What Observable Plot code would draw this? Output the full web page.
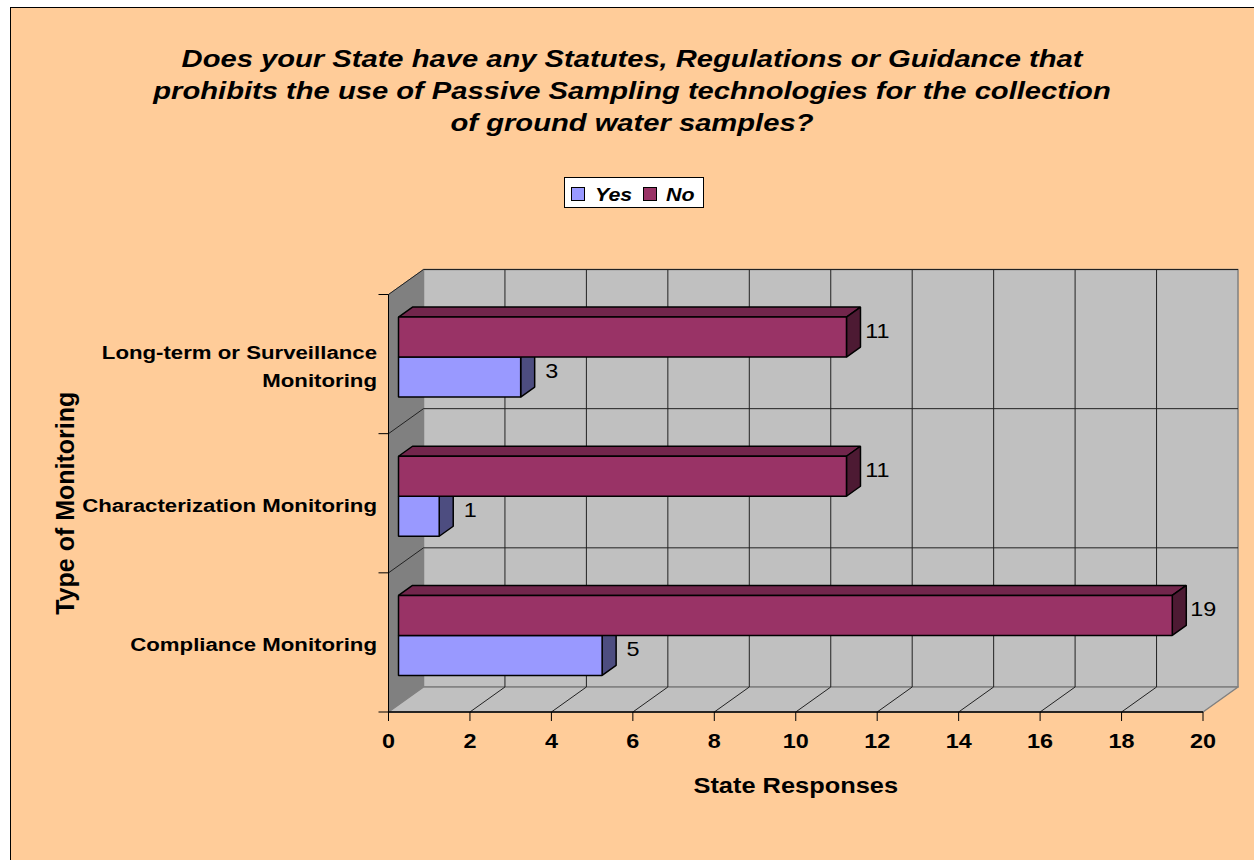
<!DOCTYPE html>
<html>
<head>
<meta charset="utf-8">
<script src="https://cdn.jsdelivr.net/npm/d3@7"></script>
<script src="https://cdn.jsdelivr.net/npm/@observablehq/plot@0.6"></script>
<style>
  html, body { margin: 0; padding: 0; background: #ffffff; }
  body { width: 1254px; height: 860px; overflow: hidden; position: relative; font-family: "Liberation Sans", Arial, sans-serif; }
  #frame { position: absolute; left: 10px; top: 7px; width: 1300px; height: 900px; background: #FFCC99; border-left: 1px solid #000; border-top: 1px solid #000; }
  #title { position: absolute; left: 0; top: 42.6px; width: 1264px; text-align: center; font-weight: bold; font-style: italic; font-size: 24.3px; line-height: 32px; color: #000; transform: scaleX(1.2); transform-origin: 632px 0; white-space: nowrap; }
  #legend { position: absolute; left: 564px; top: 177px; width: 140px; height: 31px; background: #fff; border: 1px solid #000; box-sizing: border-box; }
  .sw { position: absolute; width: 14px; height: 14px; border: 1px solid #000; box-sizing: border-box; top: 9px; }
  .lt { position: absolute; top: 7.5px; font-weight: bold; font-style: italic; font-size: 18.6px; line-height: 1; transform: scaleX(1.15); transform-origin: 0 0; white-space: nowrap; }
  #chart { position: absolute; left: 0; top: 0; }
</style>
</head>
<body>
<div id="frame"></div>
<div id="title"></div>
<div id="legend"></div>
<div id="chart"></div>
<script>
// ---------------- data ----------------
const titleLines = [
  "Does your State have any Statutes, Regulations or Guidance that",
  "prohibits the use of Passive Sampling technologies for the collection",
  "of ground water samples?"
];
const categories = ["Compliance Monitoring", "Characterization Monitoring", "Long-term or Surveillance\nMonitoring"];
const seriesNames = ["Yes", "No"];
const yesCounts = [5, 1, 3];
const noCounts = [19, 11, 11];
const xTicks = [0, 2, 4, 6, 8, 10, 12, 14, 16, 18, 20];
const xTitle = "State Responses";
const yTitle = "Type of Monitoring";
const seriesColors = {
  Yes: { front: "#9999FF", top: "#7A7ACC", side: "#4D4D80" },
  No:  { front: "#993366", top: "#72264C", side: "#4D1A33" }
};

// ---------------- geometry (styling of the 3D look) ----------------
const W = 1254, H = 860, mL = 388, mR = 51.5, mT = 294, mB = 148.5;
const kx = (W - mL - mR) / 20;   // px per x unit
const ky = (H - mT - mB) / 3;    // px per category band
const WD = [35, -25];            // wall depth offset (px)
const BF = [10, -7];             // bar front offset (px)
const BD = [14, -10];            // bar depth (px)
const barH = 40 / ky;            // bar thickness in band units
const add = (a, b) => [a[0] + b[0], a[1] + b[1]];
const pt = (x, y, o = [0, 0]) => ({ x: x + o[0] / kx, y: y - o[1] / ky });

// title & legend (HTML)
document.getElementById("title").innerHTML = titleLines.map(l => `<div>${l}</div>`).join("");
const legendPos = { Yes: [6, 30], No: [78, 101] };
document.getElementById("legend").innerHTML = seriesNames.map(s =>
  `<div class="sw" style="left:${legendPos[s][0]}px;background:${seriesColors[s].front}"></div>` +
  `<div class="lt" style="left:${legendPos[s][1]}px">${s}</div>`).join("");

// bar records
const bars = categories.flatMap((c, i) => seriesNames.map((s, j) => {
  const value = s === "Yes" ? yesCounts[i] : noCounts[i];
  const y1 = s === "Yes" ? i + 0.5 - barH : i + 0.5;
  return { category: c, i, series: s, value, y1, y2: y1 + barH };
}));

function polys(list) {
  return list.flatMap((pts, id) => pts.map(p => ({ ...p, id })));
}
const faceFns = {
  front: b => [pt(0, b.y1, BF), pt(b.value, b.y1, BF), pt(b.value, b.y2, BF), pt(0, b.y2, BF)],
  top:   b => [pt(0, b.y2, BF), pt(b.value, b.y2, BF), pt(b.value, b.y2, add(BF, BD)), pt(0, b.y2, add(BF, BD))],
  side:  b => [pt(b.value, b.y1, BF), pt(b.value, b.y2, BF), pt(b.value, b.y2, add(BF, BD)), pt(b.value, b.y1, add(BF, BD))]
};
function barFaces(series, kind) {
  return Plot.line(polys(bars.filter(b => b.series === series).map(faceFns[kind])), {
    x: "x", y: "y", z: "id", curve: "linear-closed",
    fill: seriesColors[series][kind], stroke: "#000", strokeWidth: 1.5, strokeLinejoin: "miter"
  });
}

const x0 = xTicks[0], x1 = xTicks[xTicks.length - 1];
const yBounds = d3.range(categories.length + 1);
const backWall = polys([[pt(x0, 0, WD), pt(x1, 0, WD), pt(x1, 3, WD), pt(x0, 3, WD)]]);
const sideWall = polys([[pt(x0, 0), pt(x0, 3), pt(x0, 3, WD), pt(x0, 0, WD)]]);
const floor = polys([[pt(x0, 0), pt(x1, 0), pt(x1, 0, WD), pt(x0, 0, WD)]]);
const inner = xTicks.slice(1, -1);

const link = (data, f, opts) => Plot.link(data.map(f), { x1: d => d[0].x, y1: d => d[0].y, x2: d => d[1].x, y2: d => d[1].y, ...opts });

const chart = Plot.plot({
  width: W, height: H,
  marginLeft: mL, marginRight: mR, marginTop: mT, marginBottom: mB,
  x: { domain: [x0, x1], axis: null },
  y: { domain: [0, 3], axis: null },
  style: { background: "transparent", fontFamily: "'Liberation Sans', Arial, sans-serif", overflow: "visible", color: "#000" },
  marks: [
    // walls
    Plot.line(backWall, { x: "x", y: "y", z: "id", curve: "linear-closed", fill: "#C0C0C0", stroke: "#808080", strokeWidth: 1.5 }),
    Plot.line(sideWall, { x: "x", y: "y", z: "id", curve: "linear-closed", fill: "#808080", stroke: "#808080", strokeWidth: 1 }),
    Plot.line(floor, { x: "x", y: "y", z: "id", curve: "linear-closed", fill: "#C0C0C0", stroke: "#808080", strokeWidth: 1.5 }),
    // gridlines on back wall
    link(inner, k => [pt(k, 0, WD), pt(k, 3, WD)], { stroke: "#222", strokeWidth: 1 }),
    link(yBounds.slice(1), j => [pt(x0, j, WD), pt(x1, j, WD)], { stroke: "#222", strokeWidth: 1 }),
    // gridlines on side wall and floor
    link(yBounds.slice(1), j => [pt(x0, j), pt(x0, j, WD)], { stroke: "#222", strokeWidth: 1 }),
    link(inner, k => [pt(k, 0), pt(k, 0, WD)], { stroke: "#222", strokeWidth: 1 }),
    // bars
    barFaces("Yes", "top"), barFaces("Yes", "side"), barFaces("Yes", "front"),
    barFaces("No", "top"), barFaces("No", "side"), barFaces("No", "front"),
    // axes
    link([0], () => [pt(x0, 0), pt(x1, 0)], { stroke: "#000", strokeWidth: 1.5 }),
    link([0], () => [pt(x0, 0), pt(x0, 3)], { stroke: "#000", strokeWidth: 1 }),
    link(xTicks, k => [pt(k, 0), pt(k, 0, [0, 9])], { stroke: "#000", strokeWidth: 1 }),
    link(yBounds, j => [pt(x0, j, [-10, 0]), pt(x0, j)], { stroke: "#000", strokeWidth: 1 }),
    Plot.text(xTicks, { x: d => d, y: 0, text: d => String(d), dy: 29.5, fontSize: 20, fontWeight: "bold" }),
    Plot.text(categories, { x: x0, y: (d, i) => i + 0.5, text: d => d, textAnchor: "end", dx: -11.5, fontSize: 19, fontWeight: "bold", lineHeight: 1.47 }),
    Plot.text([xTitle], { x: (x0 + x1) / 2, y: 0, text: d => d, dy: 74.5, fontSize: 21.7, fontWeight: "bold" }),
    Plot.text([yTitle], { x: x0, y: 1.5, text: d => d, rotate: -90, dx: -323, fontSize: 25, fontWeight: "bold" }),
    // value labels
    Plot.text(bars, { x: "value", y: d => (d.y1 + d.y2) / 2, text: d => String(d.value), dx: 41, dy: -12.5, fontSize: 20, fontWeight: "normal" })
  ]
});

// horizontally widen non-rotated text (the reference's fonts are drawn wide)
const S = 1.17;
chart.querySelectorAll("text").forEach(t => {
  const tr = t.getAttribute("transform") || "";
  if (tr.includes("rotate")) return;
  const ax = +(t.getAttribute("x") || 0);
  t.setAttribute("transform", `${tr} translate(${ax},0) scale(${S},1) translate(${-ax},0)`);
});
document.getElementById("chart").appendChild(chart);
</script>
</body>
</html>
